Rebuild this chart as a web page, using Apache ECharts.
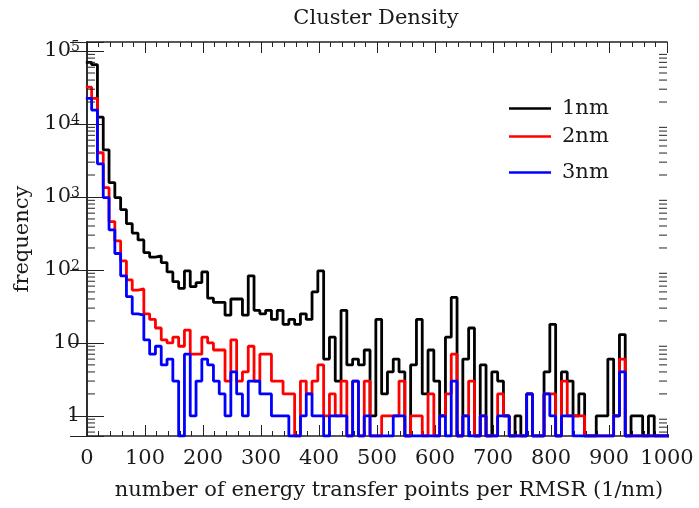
<!DOCTYPE html>
<html><head><meta charset="utf-8">
<script src="https://cdn.jsdelivr.net/npm/echarts@6/dist/echarts.min.js"></script>
<style>html,body{margin:0;padding:0;background:#fff}#c{width:699px;height:508px}</style>
</head><body><div id="c"></div>
<script>
// Histogram bins: width 10, first bin starts at -2
const binStart = -2;
const binWidth = 10;
const seriesNames = ['1nm', '2nm', '3nm'];
const xTickLabels = [0, 100, 200, 300, 400, 500, 600, 700, 800, 900, 1000];

const black = [70000, 65000, 12400, 4430, 1570, 980, 670, 431, 320, 258,
  173, 150, 156, 126, 94, 69, 56, 97, 59, 67,
  94, 41, 36, 36, 24, 40, 40, 24, 83, 28,
  25, 28, 21, 28, 18, 21, 18, 25, 21, 50,
  97, 6, 12, 3, 28, 5, 6, 5, 8, 1,
  21, 2, 4, 6, 4, 0, 5, 21, 2, 8,
  3, 1, 12, 42, 0, 6, 16, 0, 5, 0,
  4, 3, 1, 0, 1, 0, 2, 0, 0, 4,
  18, 0, 4, 3, 1, 2, 0, 0, 1, 1,
  6, 1, 13, 0, 1, 1, 0, 1, 0, 0, 0];

const red = [32000, 22400, 4040, 1340, 460, 250, 133, 73, 53, 55,
  25, 21, 16, 11, 10, 12, 9, 15, 7, 7,
  12, 10, 8, 8, 3, 11, 3, 4, 9, 3,
  7, 7, 3, 3, 2, 2, 0, 3, 2, 3,
  5, 1, 2, 1, 3, 0, 3, 0, 3, 0,
  0, 1, 1, 1, 3, 0, 1, 1, 0, 2,
  0, 1, 2, 7, 0, 1, 3, 0, 1, 0,
  0, 2, 1, 0, 0, 0, 2, 0, 0, 2,
  2, 0, 3, 1, 1, 1, 0, 0, 0, 0,
  0, 1, 6, 0, 0, 0, 0, 0, 0, 0, 0];

const blue = [22400, 15500, 2850, 980, 355, 168, 83, 43, 25, 24,
  11, 7, 9, 5, 6, 3, 0, 7, 1, 3,
  6, 5, 3, 2, 1, 4, 2, 1, 3, 3,
  2, 2, 1, 1, 1, 0, 0, 1, 2, 1,
  1, 0, 1, 1, 1, 0, 3, 0, 1, 0,
  0, 0, 0, 1, 1, 0, 0, 0, 0, 0,
  0, 1, 0, 3, 0, 1, 0, 0, 1, 0,
  0, 1, 1, 0, 0, 0, 2, 0, 0, 2,
  1, 0, 1, 1, 0, 0, 0, 0, 0, 0,
  0, 1, 4, 0, 0, 0, 0, 0, 0, 0, 0];

const yMin = 0.53, yMax = 133000;
const FONT = 'DejaVu Serif';
const TXT = '#1a1a1a';
const AX = '#222';
const LW = 2.8;

function steps(vals) {
  const f = v => (v > 0 ? v : yMin);
  const out = vals.map((v, i) => [binStart + i * binWidth, f(v)]);
  out.push([binStart + vals.length * binWidth, f(vals[vals.length - 1])]);
  return out;
}

// log minor tick positions (2..9 per decade)
const minorTicks = [];
for (let d = -1; d <= 5; d++) {
  for (let m = 2; m <= 9; m++) {
    const v = m * Math.pow(10, d);
    if (v > yMin && v < yMax) minorTicks.push([0, v]);
  }
}

const chart = echarts.init(document.getElementById('c'), null, {renderer: 'canvas'});

const yLabelFmt = v => {
  const l = Math.log10(v), r = Math.round(l);
  if (Math.abs(l - r) > 1e-6) return '';
  if (r === 0) return '{b|1}';
  if (r === 1) return '{b|10}';
  return '{b|10}{s|' + r + '}';
};

const xAxisCommon = {
  type: 'value', min: 0, max: 1000, interval: 100,
  axisLine: {show: true, lineStyle: {color: AX, width: 1.5}},
  axisTick: {show: true, inside: true, length: 11, lineStyle: {color: AX, width: 1}},
  minorTick: {show: true, splitNumber: 5, length: 5, lineStyle: {color: AX, width: 1}},
  splitLine: {show: false}
};
const yAxisCommon = {
  type: 'log', logBase: 10, min: yMin, max: yMax,
  axisLine: {show: true, lineStyle: {color: AX, width: 1.5}},
  axisTick: {show: true, inside: true, length: 17, lineStyle: {color: AX, width: 1}},
  splitLine: {show: false}
};

const legendCommon = {
  orient: 'horizontal', itemWidth: 42, itemHeight: 2.5, icon: 'rect', selectedMode: false,
  textStyle: {fontFamily: FONT, fontSize: 21, color: TXT, padding: [0, 0, 0, 6]}
};

chart.setOption({
  animation: false,
  backgroundColor: '#fff',
  title: {
    text: 'Cluster Density', left: 371, top: 3, textAlign: 'center',
    textStyle: {fontFamily: FONT, fontSize: 21, fontWeight: 'normal', color: TXT}
  },
  grid: {left: 87, right: 32, top: 42, bottom: 72},
  legend: [
    Object.assign({data: [seriesNames[0]], left: 504, top: 93}, legendCommon),
    Object.assign({data: [seriesNames[1]], left: 504, top: 121}, legendCommon),
    Object.assign({data: [seriesNames[2]], left: 504, top: 157}, legendCommon)
  ],
  xAxis: [
    Object.assign({}, xAxisCommon, {
      position: 'bottom',
      name: 'number of energy transfer points per RMSR (1/nm)',
      nameLocation: 'middle', nameGap: 44,
      nameTextStyle: {fontFamily: FONT, fontSize: 21, color: TXT, padding: [0, 0, 0, 24]},
      axisLabel: {
        show: true, margin: 12, fontFamily: FONT, fontSize: 21, color: TXT,
        formatter: v => (xTickLabels.indexOf(v) >= 0 ? String(v) : '')
      }
    }),
    Object.assign({}, xAxisCommon, {position: 'top', axisLabel: {show: false}})
  ],
  yAxis: [
    Object.assign({}, yAxisCommon, {
      position: 'left',
      name: 'frequency', nameLocation: 'middle', nameGap: 54,
      nameTextStyle: {fontFamily: FONT, fontSize: 21, color: TXT},
      axisLabel: {
        show: true, margin: 7, formatter: yLabelFmt,
        rich: {
          b: {fontFamily: FONT, fontSize: 21, color: TXT},
          s: {fontFamily: FONT, fontSize: 14, color: TXT, verticalAlign: 'top'}
        }
      }
    }),
    Object.assign({}, yAxisCommon, {position: 'right', axisLabel: {show: false}})
  ],
  series: [
    {name: seriesNames[0], type: 'line', step: 'end', data: steps(black), symbol: 'none',
      clip: true, lineStyle: {color: '#000', width: LW}, itemStyle: {color: '#000'}},
    {name: seriesNames[1], type: 'line', step: 'end', data: steps(red), symbol: 'none',
      clip: true, lineStyle: {color: '#ff0000', width: LW}, itemStyle: {color: '#ff0000'}},
    {name: seriesNames[2], type: 'line', step: 'end', data: steps(blue), symbol: 'none',
      clip: true, lineStyle: {color: '#0000ff', width: LW}, itemStyle: {color: '#0000ff'}},
    {
      name: 'minor', type: 'custom', data: minorTicks, encode: {x: 0, y: 1}, silent: true, z: 5,
      renderItem: (params, api) => {
        const v = api.value(1);
        const p = api.coord([0, v]);
        const q = api.coord([1000, v]);
        return {
          type: 'group', children: [
            {type: 'line', shape: {x1: p[0], y1: p[1], x2: p[0] + 8, y2: p[1]}, style: {stroke: AX, lineWidth: 1}},
            {type: 'line', shape: {x1: q[0], y1: q[1], x2: q[0] - 8, y2: q[1]}, style: {stroke: AX, lineWidth: 1}}
          ]
        };
      }
    }
  ]
});
</script></body></html>
